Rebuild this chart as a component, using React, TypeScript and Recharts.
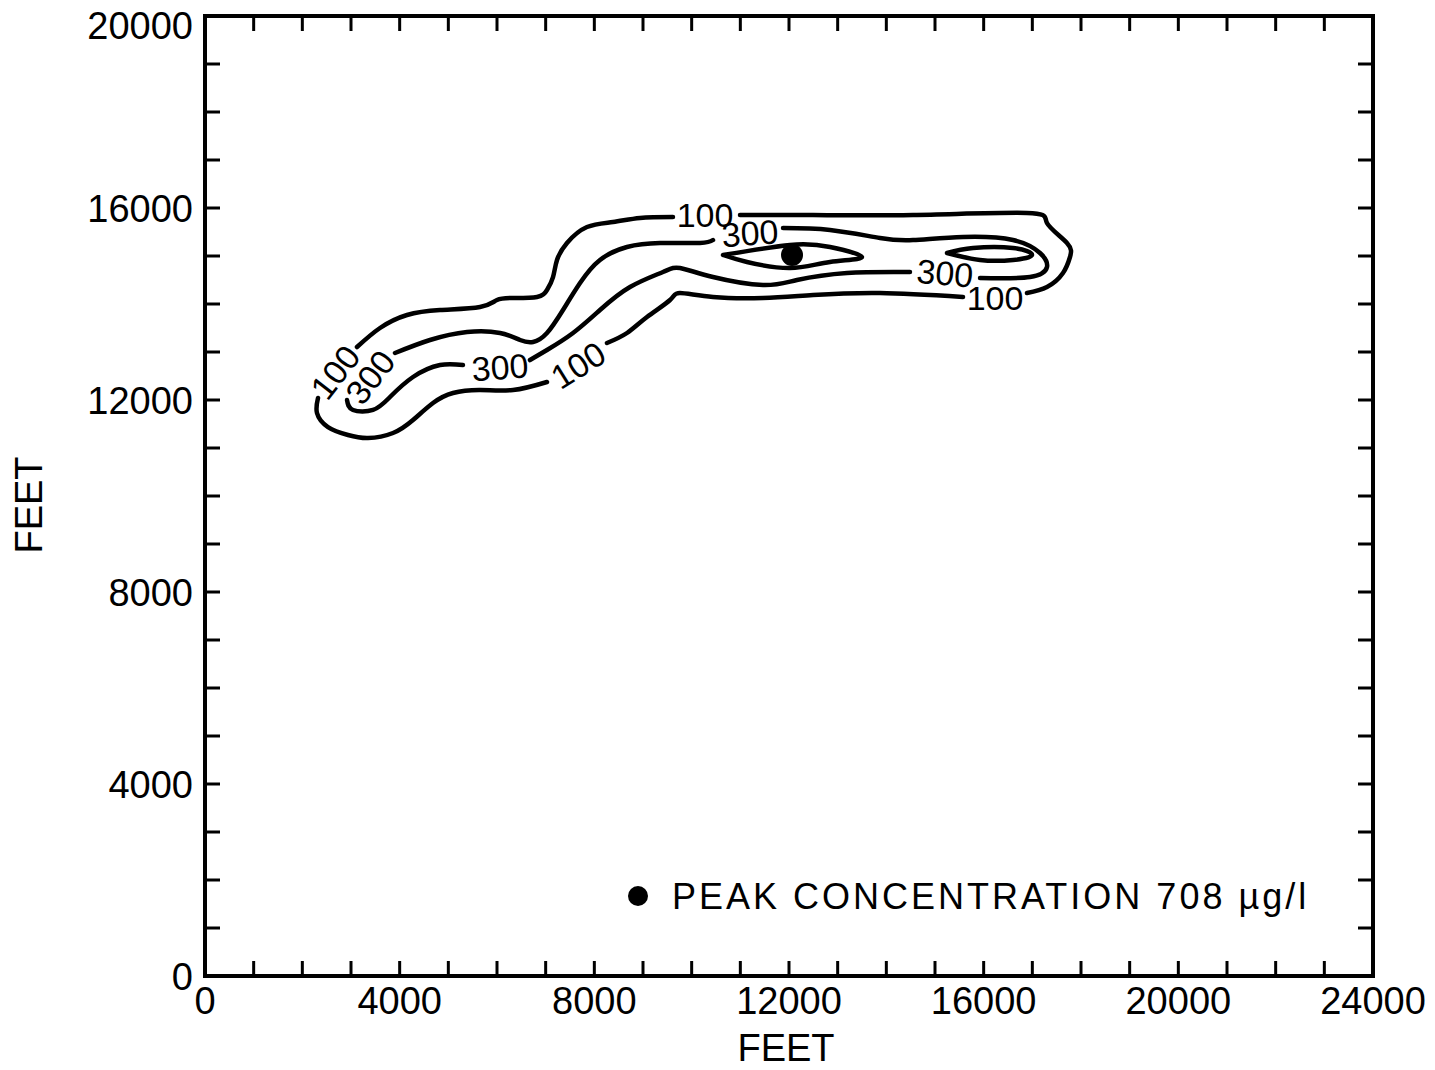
import React from "react";
import { ComposedChart, Line, Scatter, XAxis, YAxis } from "recharts";

const FONT = "'Liberation Sans', Arial, Helvetica, sans-serif";

// tick positions (feet)
const xTicks = [0, 1000, 2000, 3000, 4000, 5000, 6000, 7000, 8000, 9000, 10000, 11000, 12000, 13000, 14000, 15000, 16000, 17000, 18000, 19000, 20000, 21000, 22000, 23000, 24000];
const yTicks = [0, 1000, 2000, 3000, 4000, 5000, 6000, 7000, 8000, 9000, 10000, 11000, 12000, 13000, 14000, 15000, 16000, 17000, 18000, 19000, 20000];
const xTickLabels = [0, 4000, 8000, 12000, 16000, 20000, 24000];
const yTickLabels = [0, 4000, 8000, 12000, 16000, 20000];

// 100 contour, broken where the labels sit
const c100Top = [[3123, 13104], [3596, 13500], [4151, 13771], [4829, 13875], [5651, 13937], [6000, 14083], [6329, 14125], [6822, 14146], [7027, 14292], [7151, 14562], [7233, 14917], [7438, 15271], [7849, 15604], [8384, 15708], [8938, 15792], [9616, 15812]];
const c100Right = [[10993, 15854], [12493, 15854], [14548, 15854], [16890, 15896], [17301, 15687], [17712, 15271], [17774, 14979], [17630, 14646], [17301, 14354], [16890, 14229]];
const c100Bottom = [[15575, 14146], [13870, 14229], [12493, 14187], [11466, 14125], [10438, 14146], [9760, 14229], [9555, 14083], [9082, 13729], [8671, 13396], [8260, 13187]];
const c100Left = [[7027, 12375], [6329, 12208], [5651, 12208], [5096, 12146], [4685, 11937], [4274, 11583], [3863, 11312], [3349, 11208], [2938, 11271], [2527, 11437], [2301, 11729], [2322, 12042]];

// 300 contour
const c300Top = [[3904, 12979], [4623, 13250], [5384, 13417], [6062, 13396], [6473, 13250], [6740, 13208], [7027, 13396], [7356, 13875], [7706, 14437], [8116, 14917], [8671, 15187], [9349, 15271], [10171, 15271], [10438, 15333]];
const c300Right = [[11877, 15583], [12843, 15542], [13870, 15375], [14548, 15333], [15575, 15396], [16603, 15333], [17158, 15062], [17301, 14771], [16952, 14562], [15925, 14542]];
const c300Bottom = [[14486, 14667], [13192, 14646], [12164, 14500], [11466, 14396], [10438, 14562], [9760, 14750], [9411, 14667], [8733, 14354], [8116, 13875], [7562, 13396], [7027, 13042], [6678, 12833]];
const c300Left = [[5301, 12729], [4829, 12729], [4274, 12479], [3801, 12062], [3452, 11792], [3041, 11792], [2918, 12000]];

// inner closed contours
const eyeWest = [[10644, 15021], [12021, 15229], [12843, 15187], [13500, 14979], [12843, 14875], [12021, 14750], [11137, 14875], [10644, 15021]];
const eyeEast = [[15247, 15062], [15781, 15167], [16603, 15167], [16993, 15021], [16603, 14917], [15925, 14917], [15247, 15062]];

// contour labels
const contourLabels = [
  { x: 2671, y: 12583, text: "100" },
  { x: 3390, y: 12479, text: "300" },
  { x: 10274, y: 15854, text: "100" },
  { x: 11199, y: 15479, text: "300" },
  { x: 15205, y: 14646, text: "300" },
  { x: 16233, y: 14125, text: "100" },
  { x: 6062, y: 12687, text: "300" },
  { x: 7664, y: 12729, text: "100" },
];
const labelAngles = [-52, -52, 0, -4, 5, 0, -4, -32];

const peak = [{ x: 12062, y: 15021 }];
const legendPoint = [{ x: 8897, y: 1667, text: "PEAK CONCENTRATION 708 \u00b5g/l" }];

const toPts = (arr: number[][]) => arr.map(([x, y]) => ({ x, y }));

const TICK = 15;

const BottomTick = (props: any) => {
  const { x, y, payload } = props;
  const v = payload.value;
  return (
    <g>
      <line x1={x} y1={y} x2={x} y2={y - TICK} stroke="#000" strokeWidth={3} />
      {xTickLabels.includes(v) && (
        <text x={x} y={y + 38} textAnchor="middle" fontSize={38} fontFamily={FONT} fill="#000">
          {v}
        </text>
      )}
    </g>
  );
};

const TopTick = (props: any) => {
  const { x, y } = props;
  return <line x1={x} y1={y} x2={x} y2={y + TICK} stroke="#000" strokeWidth={3} />;
};

const LeftTick = (props: any) => {
  const { x, y, payload } = props;
  const v = payload.value;
  return (
    <g>
      <line x1={x} y1={y} x2={x + TICK} y2={y} stroke="#000" strokeWidth={3} />
      {yTickLabels.includes(v) && (
        <text x={x - 12} y={Math.max(y, 25)} dy="0.36em" textAnchor="end" fontSize={38} fontFamily={FONT} fill="#000">
          {v}
        </text>
      )}
    </g>
  );
};

const RightTick = (props: any) => {
  const { x, y } = props;
  return <line x1={x} y1={y} x2={x - TICK} y2={y} stroke="#000" strokeWidth={3} />;
};

const ContourLabel = (props: any) => {
  const { cx, cy, index, payload } = props;
  const a = labelAngles[index] || 0;
  return (
    <text
      x={cx}
      y={cy}
      dy="0.36em"
      textAnchor="middle"
      fontSize={34}
      fontFamily={FONT}
      fill="#000"
      transform={`rotate(${a} ${cx} ${cy})`}
    >
      {payload.text}
    </text>
  );
};

const LegendMark = (props: any) => {
  const { cx, cy, payload } = props;
  return (
    <g>
      <circle cx={cx} cy={cy} r={10} fill="#000" />
      <text x={cx + 34} y={cy} dy="0.36em" fontSize={36} fontFamily={FONT} letterSpacing={3} fill="#000">
        {payload.text}
      </text>
    </g>
  );
};

const PeakDot = (props: any) => {
  const { cx, cy } = props;
  return <circle cx={cx} cy={cy} r={11} fill="#000" />;
};

const Nothing = () => <g />;

const segments = [c100Top, c100Right, c100Bottom, c100Left, c300Top, c300Right, c300Bottom, c300Left, eyeWest, eyeEast];

const axisLine = { stroke: "#000", strokeWidth: 4, strokeLinecap: "square" as const };

export default function App() {
  return (
    <div style={{ position: "absolute", left: 0, top: 0, background: "#fff" }}>
      <ComposedChart width={1435} height={1070} margin={{ top: 15, right: 61, bottom: 0, left: 0 }}>
        <XAxis
          xAxisId="b"
          dataKey="x"
          type="number"
          domain={[0, 24000]}
          ticks={xTicks}
          interval={0}
          height={94}
          tickSize={0}
          tickMargin={0}
          tickLine={false}
          axisLine={axisLine}
          tick={BottomTick}
          allowDataOverflow
          label={{
            content: () => (
              <text x={786} y={1047} dy="0.36em" textAnchor="middle" fontSize={38} fontFamily={FONT} fill="#000">
                FEET
              </text>
            ),
          }}
        />
        <XAxis
          xAxisId="t"
          orientation="top"
          dataKey="x"
          type="number"
          domain={[0, 24000]}
          ticks={xTicks}
          interval={0}
          height={1}
          tickSize={0}
          tickMargin={0}
          tickLine={false}
          axisLine={axisLine}
          tick={TopTick}
          allowDataOverflow
        />
        <YAxis
          yAxisId="l"
          type="number"
          domain={[0, 20000]}
          ticks={yTicks}
          interval={0}
          width={205}
          tickSize={0}
          tickMargin={0}
          tickLine={false}
          axisLine={axisLine}
          tick={LeftTick}
          allowDataOverflow
          label={{
            content: () => (
              <text
                x={28}
                y={505}
                dy="0.36em"
                textAnchor="middle"
                fontSize={38}
                fontFamily={FONT}
                fill="#000"
                transform="rotate(-90 28 505)"
              >
                FEET
              </text>
            ),
          }}
        />
        <YAxis
          yAxisId="r"
          orientation="right"
          type="number"
          domain={[0, 20000]}
          ticks={yTicks}
          interval={0}
          width={1}
          tickSize={0}
          tickMargin={0}
          tickLine={false}
          axisLine={axisLine}
          tick={RightTick}
          allowDataOverflow
        />
        {segments.map((seg, i) => (
          <Line
            key={`seg-${i}`}
            xAxisId="b"
            yAxisId="l"
            data={toPts(seg)}
            dataKey="y"
            type="natural"
            stroke="#000"
            strokeWidth={4.5}
            strokeLinecap="round"
            strokeLinejoin="round"
            dot={false}
            activeDot={false}
            isAnimationActive={false}
          />
        ))}
        <Scatter xAxisId="t" yAxisId="r" data={peak} dataKey="y" shape={Nothing} isAnimationActive={false} />
        <Scatter xAxisId="b" yAxisId="l" data={contourLabels} dataKey="y" shape={ContourLabel} isAnimationActive={false} />
        <Scatter xAxisId="b" yAxisId="l" data={peak} dataKey="y" shape={PeakDot} isAnimationActive={false} />
        <Scatter xAxisId="b" yAxisId="l" data={legendPoint} dataKey="y" shape={LegendMark} isAnimationActive={false} />
      </ComposedChart>
    </div>
  );
}
